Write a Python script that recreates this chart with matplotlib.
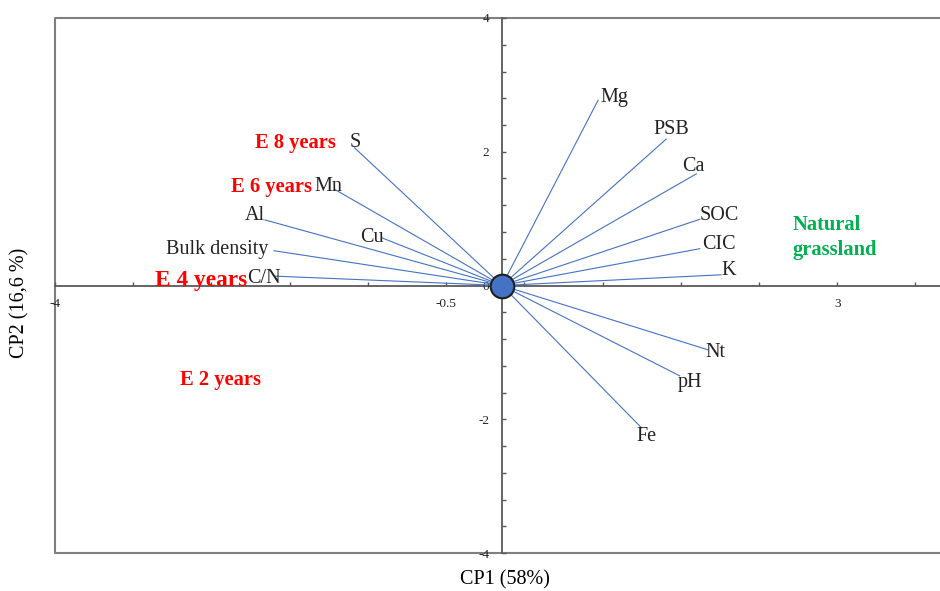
import numpy as np
import matplotlib
matplotlib.use("Agg")
import matplotlib.pyplot as plt

# === DATA ===
variables = ["Mg", "PSB", "Ca", "SOC", "CIC", "K", "Nt", "pH", "Fe",
             "S", "Mn", "Al", "Cu", "Bulk density", "C/N"]
load_x = [0.86, 1.47, 1.74, 1.77, 1.77, 1.96, 1.84, 1.59, 1.25,
          -1.32, -1.50, -2.12, -1.07, -2.04, -2.03]
load_y = [2.77, 2.19, 1.67, 0.99, 0.55, 0.16, -0.96, -1.35, -2.13,
          2.06, 1.44, 0.98, 0.71, 0.52, 0.14]

groups = ["E 8 years", "E 6 years", "E 4 years", "E 2 years", "Natural\ngrassland"]
group_x = [-1.85, -2.06, -2.69, -2.52, 2.60]
group_y = [2.13, 1.47, 0.07, -1.41, 0.72]

# label placement (offset in pixels, horizontal alignment)
label_style = {
    "Mg": ((2, 3), "left"), "PSB": ((5, 10), "center"), "Ca": ((-3, 7), "center"),
    "SOC": ((0, 4), "left"), "CIC": ((2, 4), "left"), "K": ((0, 4), "left"),
    "Nt": ((-2, -3), "left"), "pH": ((-2, -7), "left"), "Fe": ((5, -9), "center"),
    "S": ((1, 5), "center"), "Mn": ((-6, 3), "center"), "Al": ((0, 4), "right"),
    "Cu": ((1, 1), "right"), "Bulk density": ((-6, 1), "right"), "C/N": ((-11, -2), "center"),
}
group_style = {
    "E 8 years": ("red", 14.8, "center"), "E 6 years": ("red", 14.8, "center"),
    "E 4 years": ("red", 16.8, "center"), "E 2 years": ("red", 14.8, "center"),
    "Natural\ngrassland": ("#00B050", 14.8, "left"),
}

plt.rcParams["font.family"] = ["Liberation Serif", "DejaVu Serif"]

fig = plt.figure(figsize=(9.4, 5.91), dpi=100)
ax = fig.add_axes([55 / 940, 1 - 553 / 591, 1 - 55 / 940, (553 - 18) / 591])
ax.set_xlim(-4, 3.92)
ax.set_ylim(-4, 4)

# central axes
axis_col = "#595959"
for side in ["top", "right"]:
    ax.spines[side].set_visible(False)
for side in ["left", "bottom"]:
    ax.spines[side].set_position(("data", 0))
    ax.spines[side].set_color(axis_col)
    ax.spines[side].set_linewidth(1.3)
    ax.spines[side].set_zorder(1)

xt = [-4 + 0.7 * k for k in range(12)]
ax.set_xticks(xt)
ax.set_xticklabels(["-4", "", "", "", "", "-0.5", "", "", "", "", "3", ""])
yt = [-4 + 0.4 * k for k in range(21)]
ax.set_yticks(yt)
ax.set_yticklabels([str(int(round(v))) if abs(v / 2 - round(v / 2)) < 1e-6 else "" for v in yt])
ax.tick_params(axis="both", direction="in", length=3, width=1, color=axis_col,
               labelsize=9.5, labelcolor="#222222")
ax.tick_params(axis="x", pad=9)
ax.tick_params(axis="y", pad=9)

# outer frame (top, left, bottom)
ax.plot([1, 0, 0, 1], [1, 1, 0, 0], transform=ax.transAxes, color="#7f7f7f",
        lw=1.5, clip_on=False, zorder=1)

# loading vectors
for name, x, y in zip(variables, load_x, load_y):
    ax.plot([0, x], [0, y], color="#4472C4", lw=0.8, zorder=3)
    (dx, dy), ha = label_style[name]
    ax.annotate(name, (x, y), xytext=(dx, dy), textcoords="offset pixels",
                ha=ha, va="center", fontsize=14.5, color="#222222", zorder=4)

ax.plot(0, 0, "o", ms=17, mfc="#4472C4", mec="#1f1f1f", mew=1.5, zorder=5)

# sample group labels
for name, x, y in zip(groups, group_x, group_y):
    col, size, ha = group_style[name]
    ax.text(x, y, name, color=col, fontsize=size, fontweight="bold",
            ha=ha, va="center", zorder=4, linespacing=1.3)

fig.text(505 / 940, 1 - 580 / 591, "CP1 (58%)", ha="center", va="center", fontsize=14.5)
fig.text(20 / 940, 1 - 303 / 591, "CP2 (16,6 %)", ha="center", va="center",
         rotation=90, fontsize=14.5)

plt.savefig("out.png", dpi=100)
